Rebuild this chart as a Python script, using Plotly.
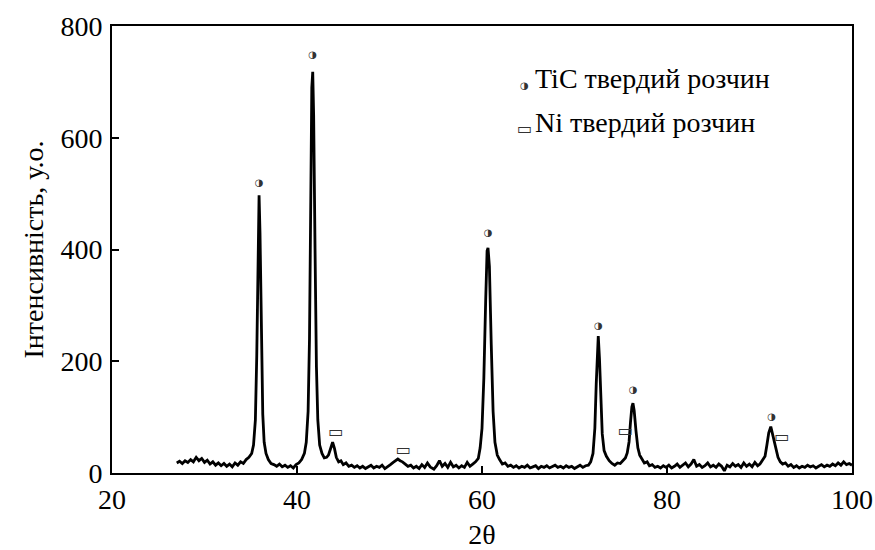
import plotly.graph_objects as go

# XRD pattern (2θ, intensity a.u.)
two_theta = [
    27.0, 27.3, 27.6, 27.9, 28.2, 28.5, 28.8, 29.1, 29.4, 29.7, 30.0, 30.3, 30.6, 30.9,
    31.2, 31.5, 31.8, 32.1, 32.4, 32.7, 33.0, 33.3, 33.6, 33.9, 34.2, 34.5, 34.8, 35.1,
    35.3, 35.5, 35.65, 35.8, 35.9, 36.0, 36.15, 36.3, 36.45, 36.65, 36.9, 37.2, 37.5,
    37.8, 38.1, 38.4, 38.7, 39.0, 39.3, 39.6, 39.9, 40.2, 40.5, 40.8, 41.0, 41.2, 41.35,
    41.5, 41.6, 41.7, 41.8, 41.95, 42.1, 42.25, 42.45, 42.7, 42.95, 43.2, 43.4, 43.6,
    43.85, 44.05, 44.25, 44.5, 44.75, 45.0, 45.3, 45.6, 45.9, 46.2, 46.5, 46.8, 47.1,
    47.4, 47.7, 48.0, 48.3, 48.6, 48.9, 49.2, 49.5, 49.8, 50.1, 50.4, 50.6, 50.9, 51.15,
    51.4, 51.7, 52.0, 52.3, 52.6, 52.9, 53.2, 53.5, 53.8, 54.1, 54.4, 54.8, 55.1, 55.4,
    55.7, 56.0, 56.3, 56.6, 56.9, 57.2, 57.5, 57.8, 58.1, 58.4, 58.7, 59.0, 59.3, 59.6,
    59.8, 60.0, 60.2, 60.4, 60.55, 60.65, 60.8, 61.0, 61.2, 61.4, 61.65, 61.9, 62.2,
    62.5, 62.8, 63.1, 63.4, 63.7, 64.0, 64.3, 64.6, 64.9, 65.2, 65.5, 65.8, 66.1, 66.4,
    66.7, 67.0, 67.3, 67.6, 67.9, 68.2, 68.5, 68.8, 69.1, 69.4, 69.7, 70.0, 70.3, 70.6,
    70.9, 71.2, 71.5, 71.75, 72.0, 72.2, 72.35, 72.5, 72.57, 72.7, 72.85, 73.0, 73.2,
    73.45, 73.75, 74.05, 74.35, 74.65, 74.95, 75.25, 75.5, 75.7, 75.9, 76.05, 76.2,
    76.32, 76.45, 76.65, 76.85, 77.05, 77.3, 77.55, 77.85, 78.1, 78.4, 78.7, 79.0, 79.3,
    79.6, 79.9, 80.2, 80.5, 80.8, 81.1, 81.4, 81.7, 82.0, 82.3, 82.6, 82.9, 83.2, 83.5,
    83.8, 84.1, 84.4, 84.7, 85.0, 85.3, 85.6, 85.9, 86.2, 86.5, 86.8, 87.1, 87.4, 87.7,
    88.0, 88.3, 88.6, 88.9, 89.2, 89.5, 89.8, 90.05, 90.3, 90.6, 90.8, 91.0, 91.22,
    91.4, 91.55, 91.75, 92.0, 92.25, 92.5, 92.8, 93.1, 93.4, 93.7, 94.0, 94.3, 94.6,
    94.9, 95.2, 95.5, 95.8, 96.1, 96.4, 96.7, 97.0, 97.3, 97.6, 97.9, 98.2, 98.5, 98.8,
    99.1, 99.4, 99.7, 100.0,
]
intensity = [
    18, 21, 17, 22, 19, 24, 20, 28, 22, 26, 19, 23, 16, 20,
    14, 18, 13, 17, 12, 16, 11, 18, 14, 20, 17, 24, 28, 35,
    50, 95, 210, 420, 497, 430, 230, 105, 55, 35, 24, 17, 15,
    12, 16, 11, 14, 10, 13, 9, 15, 18, 24, 35, 55, 110, 240,
    480, 690, 718, 640, 400, 190, 95, 50, 35, 27, 28, 32, 42,
    55, 44, 28, 20, 22, 15, 18, 12, 14, 10, 13, 9, 12,
    8, 11, 14, 9, 12, 10, 14, 8, 11, 15, 19, 22, 25, 22,
    20, 16, 12, 14, 9, 12, 8, 15, 10, 18, 11, 7, 13, 22,
    12, 17, 10, 19, 11, 14, 9, 13, 10, 19, 12, 16, 20, 26,
    45, 80, 170, 310, 398, 403, 370, 230, 110, 55, 32, 24, 16,
    18, 12, 14, 10, 13, 9, 12, 10, 14, 9, 11, 13, 8, 12,
    10, 13, 9, 11, 14, 10, 12, 9, 13, 10, 12, 8, 11, 14,
    10, 13, 14, 20, 35, 80, 160, 240, 245, 205, 130, 70, 40,
    30, 22, 17, 14, 18, 17, 23, 27, 36, 56, 90, 118,
    125, 112, 75, 45, 32, 24, 18, 20, 13, 15, 10, 12, 9,
    13, 10, 14, 9, 12, 16, 10, 14, 18, 11, 16, 24, 12, 15,
    10, 13, 18, 11, 14, 10, 16, 12, 4, 14, 11, 17, 12, 15,
    10, 18, 12, 16, 11, 19, 13, 16, 22, 30, 50, 72, 83,
    70, 62, 42, 28, 20, 16, 18, 12, 15, 10, 13, 9, 12,
    10, 14, 11, 13, 9, 12, 15, 11, 14, 12, 16, 13, 18, 14,
    20, 15, 17, 14,
]

# phase markers
tic_x = [35.9, 41.7, 60.65, 72.57, 76.35, 91.3]
tic_y = [518, 748, 428, 263, 147, 100]
ni_x = [44.2, 51.5, 75.5, 92.4]
ni_y = [72, 39, 74, 63]

legend_labels = ["TiC твердий розчин", "Ni твердий розчин"]
x_ticks = [20, 40, 60, 80, 100]
y_ticks = [0, 200, 400, 600, 800]

SERIF = "Liberation Serif"
FS = 28
TIC_GLYPH = "◑"
NI_GLYPH = "▭"
GLYPH_FONT = "DejaVu Sans"

fig = go.Figure()
fig.add_trace(go.Scatter(
    x=two_theta, y=intensity, mode="lines",
    line=dict(color="black", width=2.8), showlegend=False, hoverinfo="x+y",
))
fig.add_trace(go.Scatter(
    x=tic_x, y=tic_y, mode="text", text=[TIC_GLYPH] * len(tic_x),
    textfont=dict(family=GLYPH_FONT, size=10, color="#333"),
    showlegend=False, name=legend_labels[0],
))
fig.add_trace(go.Scatter(
    x=ni_x, y=ni_y, mode="text", text=[NI_GLYPH] * len(ni_x),
    textfont=dict(family=GLYPH_FONT, size=16, color="#333"),
    showlegend=False, name=legend_labels[1],
))

# legend drawn as annotations
legend_rows = [(TIC_GLYPH, 10, 0.883, 0.868), (NI_GLYPH, 16, 0.785, 0.770)]
for (glyph, gsize, ty, gy), label in zip(legend_rows, legend_labels):
    fig.add_annotation(xref="paper", yref="paper", x=0.558, y=gy, text=glyph,
                       showarrow=False, xanchor="center", yanchor="middle",
                       font=dict(family=GLYPH_FONT, size=gsize, color="#333"))
    fig.add_annotation(xref="paper", yref="paper", x=0.569, y=ty, xanchor="left",
                       yanchor="middle", text=label, showarrow=False,
                       font=dict(family=SERIF, size=FS, color="black"))

axis_common = dict(
    showline=True, linecolor="black", linewidth=2, mirror=True,
    ticks="inside", ticklen=7, tickwidth=1.5, tickcolor="black",
    showgrid=False, zeroline=False, ticklabeloverflow="allow", automargin=False,
    tickfont=dict(family=SERIF, size=FS, color="black"),
)
fig.update_xaxes(range=[20, 100], tickvals=x_ticks,
                 title=dict(text="2θ", font=dict(family=SERIF, size=FS, color="black"), standoff=20),
                 **axis_common)
fig.update_yaxes(range=[0, 800], tickvals=y_ticks, ticklabelstandoff=2,
                 title=dict(text="Інтенсивність, у.о.", font=dict(family=SERIF, size=FS, color="black"), standoff=9),
                 **axis_common)
fig.update_layout(
    width=875, height=550,
    margin=dict(l=112, r=23, t=26, b=77),
    paper_bgcolor="white", plot_bgcolor="white",
    showlegend=False,
    font=dict(family=SERIF, color="black"),
)
fig.write_html("out.html")
